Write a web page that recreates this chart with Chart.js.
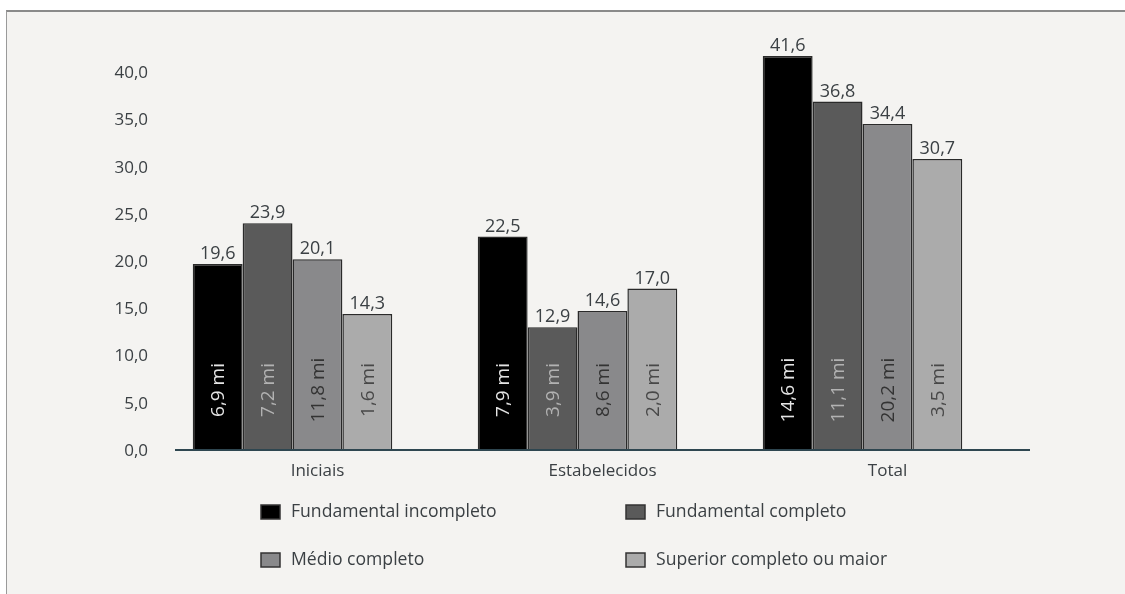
<!DOCTYPE html>
<html>
<head>
<meta charset="utf-8">
<script src="https://cdn.jsdelivr.net/npm/chart.js@4/dist/chart.umd.min.js"></script>
<style>
  html, body { margin: 0; padding: 0; background: #ffffff; }
  #wrap { position: relative; width: 1125px; height: 594px; overflow: hidden; }
  #frame {
    position: absolute; left: 6px; top: 10px; right: 0; bottom: 0;
    background: #f4f3f1;
    border-top: 2px solid #8a8a8a;
    border-left: 1px solid #9a9a9a;
  }
  #chart { position: absolute; left: 0; top: 0; }
</style>
</head>
<body>
<div id="wrap">
  <div id="frame"></div>
  <canvas id="chart" width="1125" height="594"></canvas>
</div>
<script>
const categories = ['Iniciais', 'Estabelecidos', 'Total'];
const seriesNames = ['Fundamental incompleto', 'Fundamental completo', 'Médio completo', 'Superior completo ou maior'];

// rates per schooling level
const fundIncompleto = [19.6, 22.5, 41.6];
const fundCompleto = [23.9, 12.9, 36.8];
const medioCompleto = [20.1, 14.6, 34.4];
const superiorCompleto = [14.3, 17.0, 30.7];

// absolute counts (millions) written inside the bars
const miFundIncompleto = [6.9, 7.9, 14.6];
const miFundCompleto = [7.2, 3.9, 11.1];
const miMedioCompleto = [11.8, 8.6, 20.2];
const miSuperiorCompleto = [1.6, 2.0, 3.5];

const yTicks = [0, 5, 10, 15, 20, 25, 30, 35, 40];

const barColors = ['#000000', '#5a5a5a', '#89898b', '#ababab'];
const innerTextColors = ['#e4e4e4', '#b2b2b2', '#333333', '#484848'];
const textColor = '#3b4044';

const fmt = v => v.toFixed(1).replace('.', ',');

Chart.defaults.font.family = '"Open Sans", "Noto Sans", sans-serif';
Chart.defaults.font.size = 17;
Chart.defaults.color = textColor;

const values = [fundIncompleto, fundCompleto, medioCompleto, superiorCompleto];
const counts = [miFundIncompleto, miFundCompleto, miMedioCompleto, miSuperiorCompleto];

const datasets = seriesNames.map((name, i) => ({
  label: name,
  data: values[i],
  counts: counts[i],
  backgroundColor: barColors[i],
  borderColor: '#2a2a2a',
  borderWidth: 1.5,
  categoryPercentage: 0.7,
  barPercentage: 1.0
}));

// value on top, count rotated inside, baseline and legend
const barLabels = {
  id: 'barLabels',
  afterDatasetsDraw(chart) {
    const ctx = chart.ctx;
    const y = chart.scales.y;
    const base = y.getPixelForValue(0);
    ctx.save();
    chart.data.datasets.forEach((ds, i) => {
      const meta = chart.getDatasetMeta(i);
      meta.data.forEach((bar, j) => {
        ctx.fillStyle = textColor;
        ctx.font = '18px "Open Sans", sans-serif';
        ctx.textAlign = 'center';
        ctx.textBaseline = 'bottom';
        ctx.fillText(fmt(ds.data[j]), bar.x, bar.y - 1);

        ctx.save();
        ctx.translate(bar.x, base - 59);
        ctx.rotate(-Math.PI / 2);
        ctx.font = '19px "Open Sans", sans-serif';
        ctx.fillStyle = innerTextColors[i];
        ctx.textBaseline = 'middle';
        ctx.fillText(fmt(ds.counts[j]) + ' mi', 0, 1);
        ctx.restore();
      });
    });

    const area = chart.chartArea;
    ctx.strokeStyle = '#2e4650';
    ctx.lineWidth = 2;
    ctx.beginPath();
    ctx.moveTo(area.left + 25, base + 1);
    ctx.lineTo(area.right + 25, base + 1);
    ctx.stroke();
    ctx.restore();
  },
  afterDraw(chart) {
    const ctx = chart.ctx;
    const cols = [261, 626];
    const rows = [512, 560];
    ctx.save();
    ctx.font = '17.6px "Open Sans", sans-serif';
    ctx.textAlign = 'left';
    ctx.textBaseline = 'middle';
    chart.data.datasets.forEach((ds, i) => {
      const x = cols[i % 2];
      const y = rows[Math.floor(i / 2)];
      ctx.fillStyle = ds.backgroundColor;
      ctx.fillRect(x, y - 7, 19, 14);
      ctx.strokeStyle = '#333333';
      ctx.lineWidth = 1.5;
      ctx.strokeRect(x, y - 7, 19, 14);
      ctx.fillStyle = textColor;
      ctx.fillText(ds.label, x + 30, y);
    });
    ctx.restore();
  }
};

new Chart(document.getElementById('chart'), {
  type: 'bar',
  data: { labels: categories, datasets: datasets },
  options: {
    responsive: false,
    animation: false,
    layout: { padding: { left: 0, right: 120, top: 24, bottom: 0 } },
    plugins: {
      legend: { display: false },
      tooltip: { enabled: false }
    },
    scales: {
      x: {
        grid: { display: false, drawTicks: false },
        border: { display: false },
        ticks: { padding: 12, labelOffset: 25, color: textColor },
        afterFit(scale) { scale.height = 145; }
      },
      y: {
        min: 0,
        max: 45,
        grid: { display: false, drawTicks: false },
        border: { display: false },
        afterBuildTicks(scale) { scale.ticks = yTicks.map(v => ({ value: v })); },
        ticks: {
          padding: 2,
          labelOffset: 2,
          color: textColor,
          callback: v => fmt(v)
        },
        afterFit(scale) { scale.width = 150; }
      }
    }
  },
  plugins: [barLabels]
});
</script>
</body>
</html>
